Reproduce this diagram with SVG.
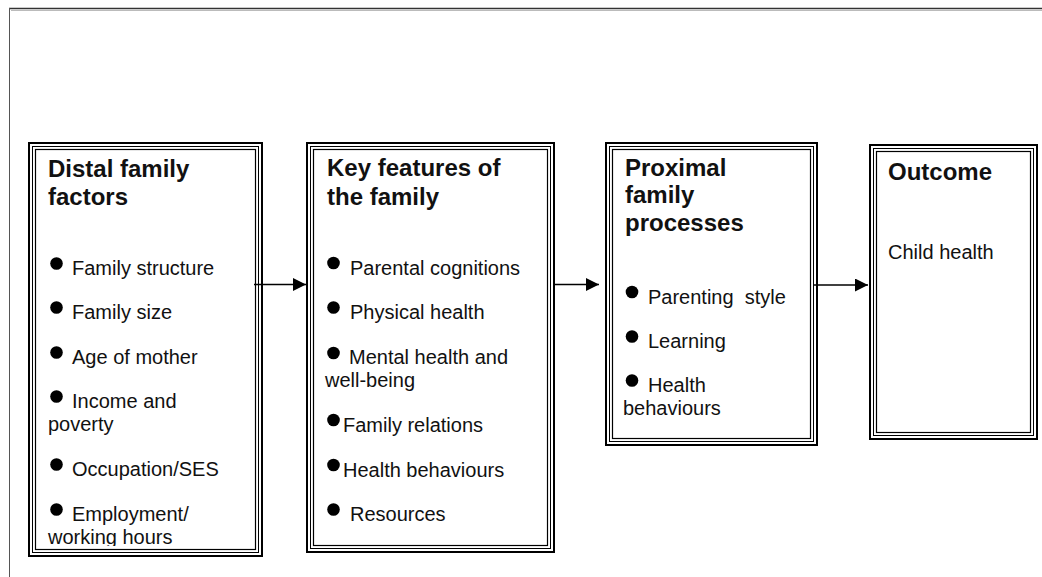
<svg xmlns="http://www.w3.org/2000/svg" width="1042" height="577" viewBox="0 0 1042 577">
  <defs>
    <style>
      .frame { fill: none; stroke: #000; }
      .o { stroke-width: 2; }
      .m { stroke-width: 1; }
      .i { stroke-width: 1.2; }
      .h { font-family: "Liberation Sans", Arial, sans-serif; font-size: 24px; font-weight: bold; fill: #111; }
      .t { font-family: "Liberation Sans", Arial, sans-serif; font-size: 20px; fill: #111; white-space: pre; }
      .b { fill: #000; }
      .conn { stroke: #000; stroke-width: 1.6; fill: none; marker-end: url(#ah); }
    </style>
    <marker id="ah" markerUnits="userSpaceOnUse" markerWidth="14" markerHeight="13" refX="13" refY="6.5" orient="auto">
      <path d="M0,0 L13,6.5 L0,13 Z" fill="#000"/>
    </marker>
    <clipPath id="clip1">
      <rect x="36" y="150" width="220" height="396"/>
    </clipPath>
  </defs>

  <g id="page">
    <line x1="9" y1="8.5" x2="1042" y2="8.5" stroke="#333" stroke-width="1.6"/>
    <line x1="11" y1="10.5" x2="1042" y2="10.5" stroke="#bbb" stroke-width="1"/>
    <line x1="9.5" y1="8" x2="9.5" y2="577" stroke="#555" stroke-width="1"/>
  </g>

  <g id="connectors">
    <line class="conn" x1="254" y1="284.5" x2="306" y2="284.5"/>
    <line class="conn" x1="553" y1="284.5" x2="599" y2="284.5"/>
    <line class="conn" x1="813" y1="285" x2="868" y2="285"/>
  </g>

  <g id="distal">
    <rect class="frame o" x="29" y="143" width="233" height="413"/>
    <rect class="frame m" x="32.5" y="146.5" width="226" height="406"/>
    <rect class="frame i" x="35.5" y="149.5" width="220" height="400"/>
    <text class="h" x="48" y="177">Distal family</text>
    <text class="h" x="48" y="205">factors</text>
    <g clip-path="url(#clip1)">
      <circle class="b" cx="56.5" cy="263.5" r="6.3"/>
      <text class="t" x="72" y="275">Family structure</text>
      <circle class="b" cx="56.5" cy="307.5" r="6.3"/>
      <text class="t" x="72" y="319">Family size</text>
      <circle class="b" cx="56.5" cy="352.5" r="6.3"/>
      <text class="t" x="72" y="364">Age of mother</text>
      <circle class="b" cx="56.5" cy="396.5" r="6.3"/>
      <text class="t" x="72" y="408">Income and</text>
      <text class="t" x="48" y="431">poverty</text>
      <circle class="b" cx="56.5" cy="464.5" r="6.3"/>
      <text class="t" x="72" y="476">Occupation/SES</text>
      <circle class="b" cx="56.5" cy="509.5" r="6.3"/>
      <text class="t" x="72" y="521">Employment/</text>
      <text class="t" x="48" y="544">working hours</text>
    </g>
  </g>

  <g id="key-features">
    <rect class="frame o" x="307" y="143" width="247" height="409"/>
    <rect class="frame m" x="310.5" y="146.5" width="240" height="402"/>
    <rect class="frame i" x="313.5" y="149.5" width="234" height="396"/>
    <text class="h" x="327" y="176">Key features of</text>
    <text class="h" x="327" y="205">the family</text>
    <circle class="b" cx="333.5" cy="263" r="6.3"/>
    <text class="t" x="350" y="275">Parental cognitions</text>
    <circle class="b" cx="333.5" cy="307.5" r="6.3"/>
    <text class="t" x="350" y="319">Physical health</text>
    <circle class="b" cx="333.5" cy="353" r="6.3"/>
    <text class="t" x="349" y="364">Mental health and</text>
    <text class="t" x="325" y="387">well-being</text>
    <circle class="b" cx="333.5" cy="420" r="6.3"/>
    <text class="t" x="343" y="432">Family relations</text>
    <circle class="b" cx="333.5" cy="465" r="6.3"/>
    <text class="t" x="343" y="477">Health behaviours</text>
    <circle class="b" cx="333.5" cy="509.5" r="6.3"/>
    <text class="t" x="350" y="521">Resources</text>
  </g>

  <g id="proximal">
    <rect class="frame o" x="606" y="143" width="211" height="302"/>
    <rect class="frame m" x="609.5" y="146.5" width="204" height="295"/>
    <rect class="frame i" x="612.5" y="149.5" width="198" height="289"/>
    <text class="h" x="625" y="176">Proximal</text>
    <text class="h" x="625" y="203">family</text>
    <text class="h" x="625" y="231">processes</text>
    <circle class="b" cx="632" cy="292" r="6.3"/>
    <text class="t" x="648" y="304" xml:space="preserve">Parenting  style</text>
    <circle class="b" cx="632" cy="336.5" r="6.3"/>
    <text class="t" x="648" y="348">Learning</text>
    <circle class="b" cx="632" cy="380.5" r="6.3"/>
    <text class="t" x="648" y="392">Health</text>
    <text class="t" x="623" y="415">behaviours</text>
  </g>

  <g id="outcome">
    <rect class="frame o" x="870" y="145" width="167" height="294"/>
    <rect class="frame m" x="873.5" y="148.5" width="160" height="287"/>
    <rect class="frame i" x="876.5" y="151.5" width="154" height="281"/>
    <text class="h" x="888" y="180">Outcome</text>
    <text class="t" x="888" y="259">Child health</text>
  </g>
</svg>
